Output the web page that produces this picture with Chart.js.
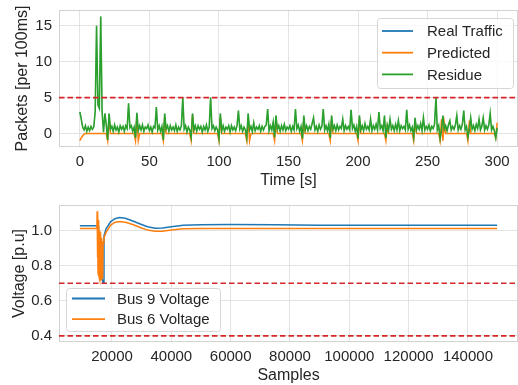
<!DOCTYPE html>
<html>
<head>
<meta charset="utf-8">
<script src="https://cdn.jsdelivr.net/npm/chart.js@4/dist/chart.umd.min.js"></script>
<style>
  html, body { margin: 0; padding: 0; background: #ffffff; }
  #wrap { position: relative; width: 518px; height: 385px; overflow: hidden; }
  .box { position: absolute; left: 0; width: 518px; }
  #topBox { top: 0; height: 195px; }
  #botBox { top: 195px; height: 190px; }
</style>
</head>
<body>
<div id="wrap">
  <div class="box" id="topBox"><canvas id="topChart" width="518" height="195"></canvas></div>
  <div class="box" id="botBox"><canvas id="botChart" width="518" height="190"></canvas></div>
</div>
<script>
// ---------------- DATA (top panel: network traffic, one value per second) ----------------
const residue = [
  3.0, 2.0, 0.9, 0.5, 1.1, 0.3, 0.9, 0.4, 1.0, 0.6,
  0.9, 3.0, 15.0, 4.0, 3.5, 16.3, 3.0, 0.2, 2.8, 1.2,
  -0.9, 2.8, 0.6, 1.0, 0.3, 1.2, 0.5, 0.9, 0.2, 1.1,
  0.6, 1.0, 0.3, 1.1, 0.7, 4.2, 0.8, 1.1, 0.3, 0.9,
  -0.6, 2.9, 0.4, 1.1, 0.5, 1.2, 0.3, 0.9, 0.7, 1.2,
  0.4, 0.9, 0.2, 1.0, 0.8, 3.7, 0.5, 1.1, 0.3, 1.0,
  -0.9, 2.8, 0.6, 1.1, 0.3, 1.1, 0.5, 0.9, 0.4, 1.2,
  0.3, 0.9, 0.5, 1.1, 5.0, 0.6, 1.1, 0.2, 0.9, 0.5,
  -0.5, 2.8, 0.5, 1.1, 0.3, 1.1, 0.6, 1.0, 0.2, 1.0,
  0.5, 1.2, 0.3, 0.9, 5.0, 0.7, 1.1, 0.4, 0.9, 0.5,
  -0.7, 2.8, 0.4, 1.1, 0.3, 0.9, 0.6, 1.1, 0.2, 1.1,
  0.5, 0.9, 0.4, 1.1, 3.2, 0.6, 1.1, 0.3, 0.9, 0.5,
  -0.6, 2.8, 0.5, 1.0, 0.3, 1.5, 0.4, 0.9, 0.6, 1.1,
  0.3, 1.0, 0.5, 1.0, 1.2, 3.4, 0.4, 1.1, 0.5, 1.6,
  -0.5, 2.5, 0.6, 1.1, 0.3, 1.1, 0.5, 1.3, 0.4, 0.9,
  0.6, 1.1, 0.3, 1.0, 0.5, 3.4, 0.7, 1.2, 0.3, 1.0,
  -0.7, 2.5, 0.5, 1.1, 0.4, 1.0, 0.6, 1.4, 2.2, 0.5,
  1.0, 0.3, 1.2, 0.6, 1.0, 3.4, 0.5, 1.1, 0.4, 1.3,
  -0.6, 2.5, 0.6, 1.1, 0.4, 1.2, 0.5, 1.0, 0.7, 2.0,
  0.4, 1.1, 0.6, 1.0, 0.5, 3.3, 0.7, 1.2, 0.3, 1.0,
  -0.7, 2.5, 0.5, 1.1, 0.4, 1.4, 0.6, 1.0, 0.5, 2.0,
  0.4, 1.1, 0.6, 1.3, 0.5, 3.0, 0.7, 1.1, 0.4, 2.5,
  -0.6, 1.2, 0.5, 2.0, 0.6, 1.1, 0.4, 1.3, 0.5, 1.8,
  0.4, 1.1, 0.7, 1.0, 0.5, 3.3, 0.6, 1.2, 0.4, 0.9,
  -0.5, 2.2, 0.5, 1.1, 0.6, 1.4, 0.4, 2.2, 0.5, 1.0,
  0.6, 1.2, 0.4, 1.0, 0.7, 1.3, 5.0, 0.5, 1.1, -0.7,
  0.5, 2.5, 0.6, 1.1, 0.4, 1.2, 1.8, 0.5, 1.0, 0.6,
  1.2, 2.5, 0.5, 1.1, 0.6, 1.3, 3.2, 0.5, 1.0, -0.5,
  0.5, 2.2, 0.6, 1.1, 0.4, 1.3, 0.7, 2.0, 0.5, 1.0,
  2.2, 0.5, 1.1, 0.6, 1.2, 2.8, 0.5, 1.0, 0.4, -0.6,
  0.8
];
// Real traffic line is fully hidden under the residue line in the picture
const realTraffic = residue;

// Predicted traffic: flat at 0 except around the periodic events
const predictedTime = [0, 1, 2, 3, 4,
  19, 20, 21, 22, 39, 40, 41, 42, 43, 59, 60, 61, 62, 79, 80, 81, 82,
  99, 100, 101, 102, 119, 120, 121, 122, 123, 139, 140, 141, 142,
  159, 160, 161, 162, 179, 180, 181, 182, 199, 200, 201, 202,
  219, 220, 221, 222, 239, 240, 241, 242, 258, 259, 260, 261, 262, 263,
  278, 279, 280, 281, 298, 299, 300];
const predictedValue = [-1.0, -0.6, -0.3, -0.1, 0,
  0, -1.0, 2.2, 0, 0, -1.0, 2.5, -1.0, 0, 0, -1.0, 2.3, 0, 0, -1.0, 2.6, 0,
  0, -1.0, 2.3, 0, 0, -1.0, 2.2, -1.0, 0, 0, -1.0, 2.0, 0,
  0, -1.0, 2.0, 0, 0, -1.0, 2.0, 0, 0, -1.0, 2.0, 0,
  0, -1.0, 1.0, 0, 0, -1.0, 1.8, 0, 0, -1.0, 2.0, -1.0, 1.5, 0,
  0, -1.0, 1.8, 0, 0, -0.6, 1.5];

const topThresholds = [5];
const topXTicks = [0, 50, 100, 150, 200, 250, 300];
const topYTicks = [0, 5, 10, 15];

// ---------------- DATA (bottom panel: bus voltages) ----------------
const bus9Samples = [9170, 15300, 15500, 15800, 16200, 16600, 17000, 17300, 18000, 19500, 21000,
  22500, 24500, 27000, 29500, 32000, 34500, 37000, 40000, 44000, 50000, 60000, 75000, 90000,
  110000, 130000, 149830];
const bus9Voltage = [1.028, 1.028, 0.78, 0.76, 0.75, 0.73, 0.70, 0.97, 1.01, 1.05, 1.068,
  1.075, 1.07, 1.055, 1.038, 1.022, 1.013, 1.015, 1.022, 1.03, 1.033, 1.035, 1.033, 1.031,
  1.03, 1.03, 1.03];

const bus6Samples = [9170, 14900, 15000, 15100, 15200, 15300, 15400, 15500, 15600, 15700, 15800,
  15900, 16000, 16100, 16200, 16300, 16400, 16500, 16600, 16700, 16800, 16900, 17000, 17300,
  18000, 19500, 21000, 22500, 24500, 27000, 29500, 32000, 34500, 37000, 40000, 44000, 50000,
  60000, 90000, 149830];
const bus6Voltage = [1.012, 1.012, 1.11, 0.85, 1.10, 0.76, 1.06, 0.74, 1.03, 0.73, 1.00,
  0.72, 0.99, 0.72, 0.97, 0.72, 0.96, 0.72, 0.95, 0.73, 0.94, 0.74, 0.93, 0.96,
  0.99, 1.03, 1.048, 1.052, 1.048, 1.035, 1.018, 1.003, 0.996, 0.997, 1.004, 1.01, 1.012,
  1.012, 1.012, 1.012];

const botThresholds = [0.7, 0.4];
const botXTicks = [20000, 40000, 60000, 80000, 100000, 120000, 140000];
const botYTicks = [0.4, 0.6, 0.8, 1.0];

// ---------------- STYLE ----------------
const FONT = "'Liberation Sans', Arial, sans-serif";
const TEXT = '#262626';
const GRID = '#e3e3e3';
const EDGE = '#d2d2d2';
const BLUE = '#1f77b4', ORANGE = '#ff7f0e', GREEN = '#2ca02c', RED = '#d62728';

function xy(xs, ys) { return xs.map((x, i) => ({ x: x, y: ys[i] })); }
function seriesByIndex(ys) { return ys.map((y, i) => ({ x: i, y: y })); }

const framePlugin = {
  id: 'frame',
  beforeDatasetsDraw(chart) {
    const { ctx, chartArea: a } = chart;
    ctx.save();
    ctx.strokeStyle = EDGE;
    ctx.lineWidth = 1;
    ctx.strokeRect(a.left + 0.5, a.top + 0.5, a.right - a.left - 1, a.bottom - a.top - 1);
    ctx.restore();
  },
  afterDatasetsDraw(chart, args, opts) {
    const { ctx, chartArea: a, scales } = chart;
    ctx.save();
    ctx.beginPath();
    ctx.rect(a.left, a.top, a.right - a.left, a.bottom - a.top);
    ctx.clip();
    ctx.strokeStyle = RED;
    ctx.lineWidth = 1.6;
    ctx.setLineDash([5.5, 3]);
    (opts.thresholds || []).forEach(v => {
      const y = scales.y.getPixelForValue(v);
      ctx.beginPath();
      ctx.moveTo(a.left, y);
      ctx.lineTo(a.right, y);
      ctx.stroke();
    });
    ctx.restore();
  }
};

const boxLegend = {
  id: 'boxLegend',
  afterDraw(chart, args, o) {
    const { ctx } = chart;
    const ds = chart.data.datasets.filter(d => d.label);
    ctx.save();
    const x = o.x, y = o.y, w = o.w, h = o.h, r = 3;
    ctx.fillStyle = 'rgba(255,255,255,0.8)';
    ctx.strokeStyle = '#d6d6d6';
    ctx.lineWidth = 1;
    ctx.beginPath();
    ctx.roundRect(x + 0.5, y + 0.5, w, h, r);
    ctx.fill();
    ctx.stroke();
    ctx.font = o.fontSize + 'px ' + FONT;
    ctx.textBaseline = 'middle';
    ctx.fillStyle = TEXT;
    ds.forEach((d, i) => {
      const ry = o.firstRow + i * o.rowGap;
      ctx.strokeStyle = d.borderColor;
      ctx.lineWidth = 1.8;
      ctx.beginPath();
      ctx.moveTo(o.lineX0, ry);
      ctx.lineTo(o.lineX1, ry);
      ctx.stroke();
      ctx.fillStyle = TEXT;
      ctx.fillText(d.label, o.textX, ry + 1);
    });
    ctx.restore();
  }
};

function tickSetter(list) {
  return function (scale) { scale.ticks = list.map(v => ({ value: v })); };
}

function makeOptions(cfg) {
  return {
    responsive: false,
    animation: false,
    events: [],
    layout: { padding: { left: 0, right: 0, top: 10, bottom: 0 } },
    plugins: {
      legend: { display: false },
      tooltip: { enabled: false },
      frame: { thresholds: cfg.thresholds },
      boxLegend: cfg.legend
    },
    elements: { point: { radius: 0 }, line: { tension: 0, borderWidth: 1.5 } },
    scales: {
      x: {
        type: 'linear', min: cfg.xMin, max: cfg.xMax,
        afterBuildTicks: tickSetter(cfg.xTicks),
        afterFit(s) { s.height = cfg.xHeight; s.paddingLeft = 0; s.paddingRight = 0; },
        ticks: { font: { family: FONT, size: 15 }, color: TEXT, padding: 6, maxRotation: 0, autoSkip: false,
                 callback: cfg.xFmt },
        grid: { color: GRID, lineWidth: 1, drawTicks: false },
        border: { display: false },
        title: { display: true, text: cfg.xTitle, color: TEXT, font: { family: FONT, size: 16 },
                 padding: { top: 0, bottom: cfg.xTitlePad } }
      },
      y: {
        type: 'linear', min: cfg.yMin, max: cfg.yMax,
        afterBuildTicks: tickSetter(cfg.yTicks),
        afterFit(s) { s.width = 59; s.paddingTop = 0; s.paddingBottom = 0; },
        ticks: { font: { family: FONT, size: 15 }, color: TEXT, padding: 7, autoSkip: false,
                 callback: cfg.yFmt },
        grid: { color: GRID, lineWidth: 1, drawTicks: false },
        border: { display: false },
        title: { display: true, text: cfg.yTitle, color: TEXT, font: { family: FONT, size: 16 },
                 padding: { top: cfg.yTitlePad, bottom: 0 } }
      }
    }
  };
}

Chart.register(framePlugin, boxLegend);

new Chart(document.getElementById('topChart'), {
  type: 'line',
  data: {
    datasets: [
      { label: 'Real Traffic', data: seriesByIndex(realTraffic), borderColor: BLUE, backgroundColor: BLUE, borderWidth: 0.3, order: 2 },
      { label: 'Predicted', data: xy(predictedTime, predictedValue), borderColor: ORANGE, backgroundColor: ORANGE, borderWidth: 1.5, order: 1 },
      { label: 'Residue', data: seriesByIndex(residue), borderColor: GREEN, backgroundColor: GREEN, borderWidth: 1.6, order: 0 }
    ]
  },
  options: makeOptions({
    xMin: -15, xMax: 315, yMin: -1.87, yMax: 17.2,
    xTicks: topXTicks, yTicks: topYTicks,
    xFmt: v => String(v), yFmt: v => String(v),
    xTitle: 'Time [s]', yTitle: 'Packets [per 100ms]',
    xHeight: 48, xTitlePad: 5, yTitlePad: 13,
    thresholds: topThresholds,
    legend: { x: 377, y: 18, w: 136, h: 70, fontSize: 15, firstRow: 31, rowGap: 21.7,
              lineX0: 382, lineX1: 413, textX: 427 }
  })
});

new Chart(document.getElementById('botChart'), {
  type: 'line',
  data: {
    datasets: [
      { label: 'Bus 9 Voltage', data: xy(bus9Samples, bus9Voltage), borderColor: BLUE, backgroundColor: BLUE, borderWidth: 1.5, order: 1 },
      { label: 'Bus 6 Voltage', data: xy(bus6Samples, bus6Voltage), borderColor: ORANGE, backgroundColor: ORANGE, borderWidth: 1.5, order: 0 }
    ]
  },
  options: makeOptions({
    xMin: 2134, xMax: 156870, yMin: 0.365, yMax: 1.146,
    xTicks: botXTicks, yTicks: botYTicks,
    xFmt: v => String(v), yFmt: v => v.toFixed(1),
    xTitle: 'Samples', yTitle: 'Voltage [p.u]',
    xHeight: 43, xTitlePad: 0, yTitlePad: 10,
    thresholds: botThresholds,
    legend: { x: 66, y: 93, w: 154, h: 43, fontSize: 15, firstRow: 103.5, rowGap: 20.7,
              lineX0: 72, lineX1: 105, textX: 117 }
  })
});
</script>
</body>
</html>
